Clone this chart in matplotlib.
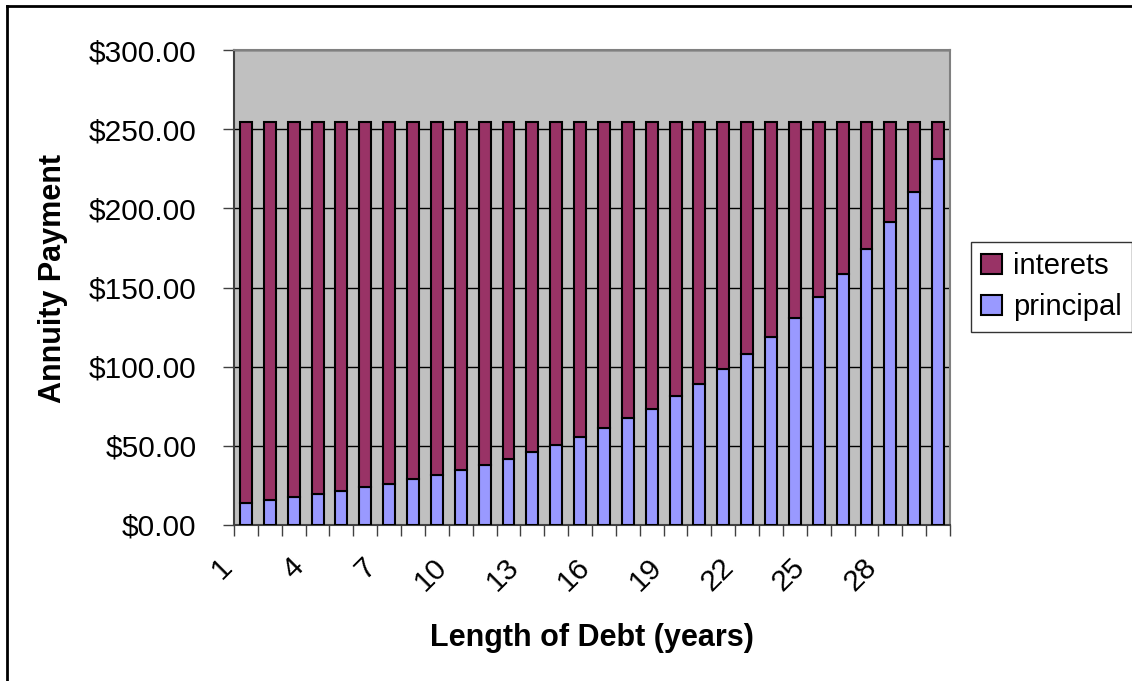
import matplotlib
matplotlib.use("Agg")
import matplotlib.pyplot as plt
from matplotlib.lines import Line2D
from matplotlib.ticker import FuncFormatter, MultipleLocator
from matplotlib.transforms import ScaledTranslation
import numpy as np

# Annuity schedule: 30 yearly payments split into principal and interest
years = list(range(1, 31))
payment = 254.4
principal = [14.1, 15.5, 17.8, 19.3, 21.5, 23.8, 26.2, 28.8, 31.3, 34.6,
             38.2, 41.9, 45.8, 50.4, 55.3, 61.0, 67.3, 73.5, 81.6, 89.0,
             98.3, 108.0, 119.0, 131.0, 144.2, 158.6, 174.3, 191.2, 210.0, 231.4]
interest = [round(payment - p, 2) for p in principal]

tick_labels = [str(y) for y in years[::3]]

plt.rcParams['font.family'] = ['Liberation Sans', 'DejaVu Sans']

W, H = 1132, 681
fig = plt.figure(figsize=(W / 100, H / 100), dpi=100)
fig.patch.set_facecolor('white')

# outer chart frame (top and left edges)
fig.add_artist(Line2D([7 / W, 7 / W], [0, 1 - 6 / H], color='black', lw=2,
                      transform=fig.transFigure))
fig.add_artist(Line2D([7 / W, 1], [1 - 6 / H, 1 - 6 / H], color='black', lw=2,
                      transform=fig.transFigure))

ax = fig.add_axes([234 / W, 1 - 525 / H, (950 - 234) / W, (525 - 50) / H])
ax.set_facecolor('#C0C0C0')

x = np.array(years)
ax.bar(x, principal, width=0.5, color='#9999FF', edgecolor='black',
       linewidth=1.5, label='principal', zorder=3)
ax.bar(x, interest, width=0.5, bottom=principal, color='#993366',
       edgecolor='black', linewidth=1.5, label='interets', zorder=3)

ax.set_xlim(0.5, 30.5)
ax.set_ylim(0, 300)
ax.yaxis.set_major_locator(MultipleLocator(50))
ax.yaxis.set_major_formatter(FuncFormatter(lambda v, _: f"${v:,.2f}"))
ax.grid(axis='y', color='black', lw=1, zorder=1)

# category labels every third year, tick marks between categories
ax.set_xticks(years[::3])
ax.set_xticklabels(tick_labels, rotation=45, ha='right', va='center',
                   rotation_mode='anchor')
ax.set_xticks(np.arange(0.5, 31, 1), minor=True)
ax.tick_params(axis='x', which='major', length=0, pad=22, labelsize=21.5)
ax.tick_params(axis='x', which='minor', length=8, width=1, color='#404040',
               direction='out')
ax.tick_params(axis='y', length=8, width=1, color='#404040', direction='out',
               pad=19, labelsize=21.5)
shift = ScaledTranslation(-18 / 100, -7 / 100, fig.dpi_scale_trans)
for lbl in ax.get_xticklabels():
    lbl.set_transform(lbl.get_transform() + shift)

for side in ['top', 'right', 'left', 'bottom']:
    ax.spines[side].set_color('#808080')
    ax.spines[side].set_linewidth(1.5)
ax.spines['left'].set_color('#404040')
ax.spines['bottom'].set_color('#404040')

fig.text(53 / W, 1 - 278 / H, 'Annuity Payment', rotation=90, ha='center',
         va='center', fontsize=22, fontweight='bold')
fig.text(592 / W, 1 - 638 / H, 'Length of Debt (years)', ha='center',
         va='center', fontsize=22, fontweight='bold')

handles, labels = ax.get_legend_handles_labels()
leg = fig.legend(handles[::-1], labels[::-1], loc='upper left',
                 bbox_to_anchor=(971 / W, 1 - 242 / H), fontsize=21,
                 frameon=True, fancybox=False, shadow=False,
                 handlelength=0.7, handleheight=0.7, handletextpad=0.4,
                 borderpad=0.35, labelspacing=0.45, borderaxespad=0)
leg.get_frame().set_edgecolor('black')
leg.get_frame().set_linewidth(1)

fig.savefig('out.png', dpi=100, facecolor='white')
